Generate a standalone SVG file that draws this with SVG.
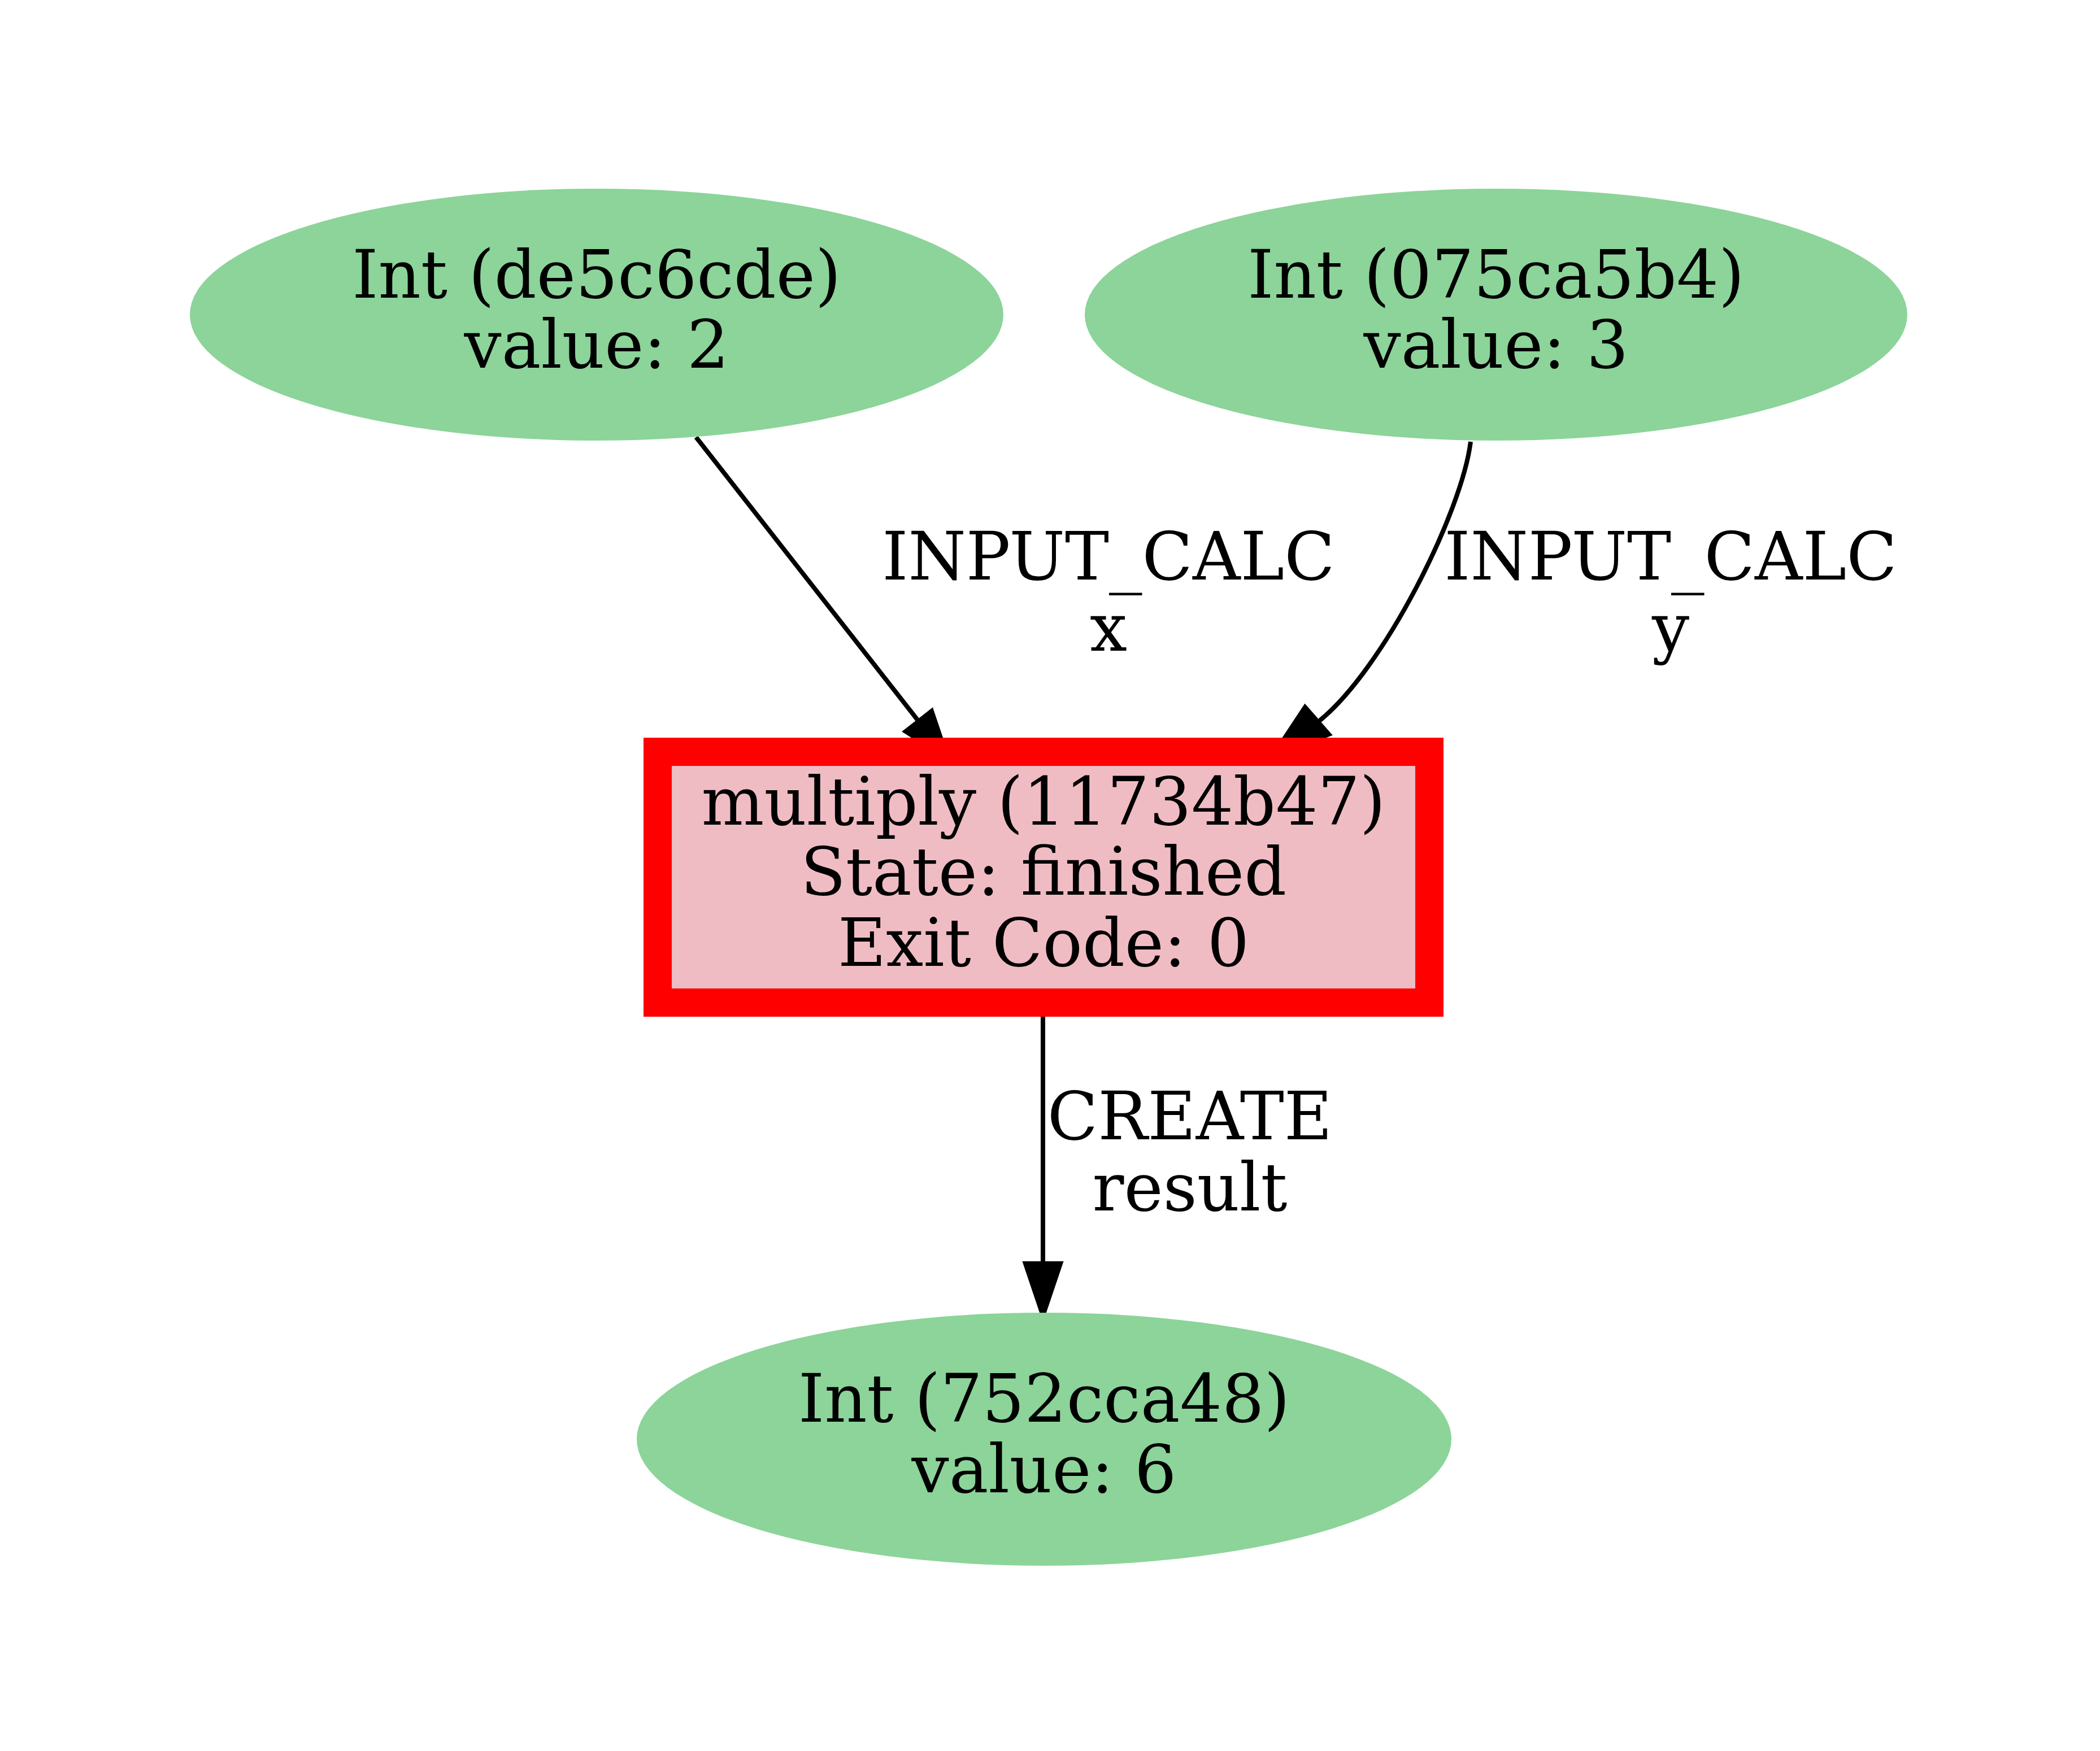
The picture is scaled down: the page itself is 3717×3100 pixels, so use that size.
<svg xmlns="http://www.w3.org/2000/svg" width="3717" height="3100" viewBox="0 0 3717 3100">
<style>
text{font-family:"DejaVu Serif","Liberation Serif",serif;font-size:117px;fill:#000;text-anchor:middle}
.data{fill:#8cd499;stroke:none}
.calc{fill:#f0bcc3;stroke:#ff0000;stroke-width:50}
.edge{fill:none;stroke:#000;stroke-width:8}
.head{fill:#000;stroke:#000;stroke-width:8}
</style>
<rect x="0" y="0" width="3717" height="3100" fill="#ffffff"/>
<g id="connectors">
<g id="edge-x">
<path class="edge" d="M1232,774 L1626,1277"/>
<polygon class="head" points="1649,1259 1677,1342 1603,1295"/>
<text x="1962" y="1026">INPUT_CALC</text>
<text x="1962" y="1152">x</text>
</g>
<g id="edge-y">
<path class="edge" d="M2603,782 C2588,905 2450,1185 2333,1278"/>
<polygon class="head" points="2352,1300 2253,1338 2310,1252"/>
<text x="2957" y="1026">INPUT_CALC</text>
<text x="2957" y="1152">y</text>
</g>
<g id="edge-result">
<path class="edge" d="M1846,1775 L1846,2240"/>
<polygon class="head" points="1877,2237 1846,2329 1815,2237"/>
<text x="2106" y="2017">CREATE</text>
<text x="2106" y="2143">result</text>
</g>
</g>
<g id="node-de5c6cde">
<ellipse class="data" cx="1056" cy="557" rx="720" ry="223"/>
<text x="1056" y="527">Int (de5c6cde)</text>
<text x="1056" y="651">value: 2</text>
</g>
<g id="node-075ca5b4">
<ellipse class="data" cx="2648" cy="557" rx="728" ry="223"/>
<text x="2648" y="527">Int (075ca5b4)</text>
<text x="2648" y="651">value: 3</text>
</g>
<g id="node-11734b47">
<rect class="calc" x="1164" y="1331" width="1366" height="444"/>
<text x="1847" y="1460">multiply (11734b47)</text>
<text x="1847" y="1584">State: finished</text>
<text x="1847" y="1710">Exit Code: 0</text>
</g>
<g id="node-752cca48">
<ellipse class="data" cx="1848" cy="2548" rx="721" ry="224"/>
<text x="1848" y="2517">Int (752cca48)</text>
<text x="1848" y="2642">value: 6</text>
</g>
</svg>
